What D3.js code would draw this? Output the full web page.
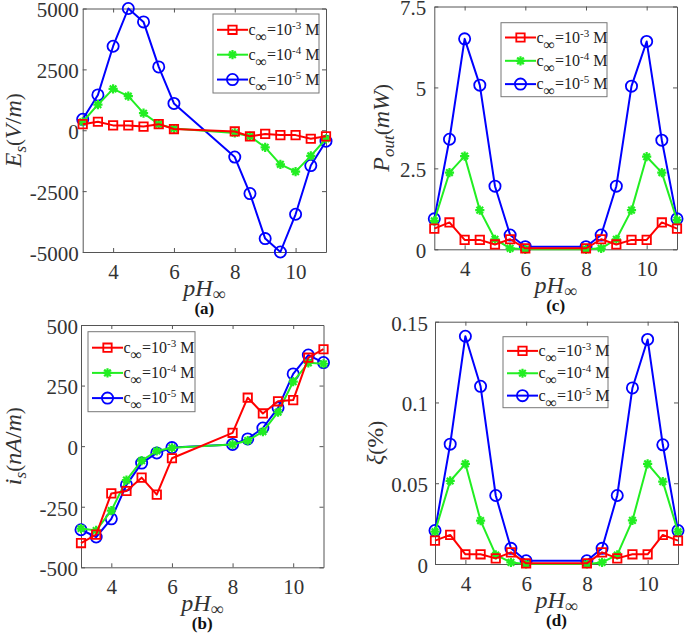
<!DOCTYPE html>
<html>
<head>
<meta charset="utf-8">
<script src="https://cdn.jsdelivr.net/npm/d3@7"></script>
<style>
  html, body { margin: 0; padding: 0; background: #fff; }
  svg { display: block; font-family: "Liberation Serif", "Times New Roman", serif; }
</style>
</head>
<body>
<svg id="chart" width="685" height="635"></svg>
<script>
// ---------------- data ----------------
const pH = [3, 3.5, 4, 4.5, 5, 5.5, 6, 8, 8.5, 9, 9.5, 10, 10.5, 11];
const xTicks = [4, 6, 8, 10];
const seriesExp = ["-3", "-4", "-5"];          // c∞ = 10^exp M
const seriesColors = ["#ff0000", "#22ee22", "#0000ff"];
const seriesMarkers = ["square", "star", "circle"];

// (a) Es (V/m)
const EsRed   = [250, 350, 200, 200, 150, 250, 50, -50, -250, -150, -200, -200, -350, -250];
const EsGreen = [350, 1050, 1700, 1400, 700, 250, 70, -110, -250, -700, -1400, -1700, -1050, -350];
const EsBlue  = [450, 1450, 3450, 5000, 4450, 2600, 1100, -1100, -2600, -4450, -5000, -3450, -1450, -450];
const EsTicks = [-5000, -2500, 0, 2500, 5000];

// (c) Pout (mW)
const PoutRed   = [0.64, 0.83, 0.29, 0.29, 0.15, 0.31, 0.03, 0.03, 0.31, 0.15, 0.29, 0.29, 0.83, 0.64];
const PoutGreen = [0.88, 2.37, 2.88, 1.21, 0.31, 0.03, 0.0, 0.0, 0.03, 0.31, 1.21, 2.86, 2.37, 0.9];
const PoutBlue  = [0.94, 3.4, 6.5, 5.07, 1.95, 0.44, 0.08, 0.08, 0.44, 1.95, 5.04, 6.42, 3.37, 0.94];
const PoutTicks = [0, 2.5, 5, 7.5];

// (b) is (nA/m)
const isRed   = [-400, -365, -195, -185, -130, -200, -50, 55, 200, 135, 185, 190, 365, 400];
const isGreen = [-340, -348, -266, -140, -60, -20, -7, 7, 23, 60, 140, 266, 344, 340];
const isBlue  = [-345, -375, -300, -160, -70, -28, -6, 7, 30, 75, 158, 298, 376, 345];
const isTicks = [-500, -250, 0, 250, 500];

// (d) xi (%)
const xiRed   = [0.0145, 0.018, 0.006, 0.006, 0.0035, 0.0072, 0.0004, 0.0004, 0.0072, 0.0035, 0.006, 0.006, 0.018, 0.0145];
const xiGreen = [0.02, 0.0514, 0.062, 0.0269, 0.0056, 0.001, 0.0, 0.0, 0.001, 0.0056, 0.027, 0.062, 0.051, 0.02];
const xiBlue  = [0.0207, 0.0742, 0.141, 0.11, 0.0424, 0.0097, 0.002, 0.002, 0.0097, 0.0424, 0.109, 0.139, 0.0738, 0.0207];
const xiTicks = [0, 0.05, 0.1, 0.15];

// ---------------- layout ----------------
const panels = [
  { letter: "(a)", plot: [82.7, 8.5, 326, 252], ydom: [-5000, 5000], yticks: EsTicks,
    data: [EsRed, EsGreen, EsBlue], legend: [213, 14, 319, 93],
    ylab: [["E", "i"], ["s", "is"], ["(", "p"], ["V", "i"], ["/", "n"], ["m", "i"], [")", "p"]], ylabX: 21, ylabPad: 4 },
  { letter: "(c)", plot: [434.3, 6.5, 677, 249.3], ydom: [0, 7.5], yticks: PoutTicks,
    data: [PoutRed, PoutGreen, PoutBlue], legend: [501, 22.7, 607, 96.7],
    ylab: [["P", "i"], ["out", "is"], ["(", "p"], ["mW", "i"], [")", "p"]], ylabX: 389, ylabPad: 8 },
  { letter: "(b)", plot: [81, 325, 323.5, 567.3], ydom: [-500, 500], yticks: isTicks,
    data: [isRed, isGreen, isBlue], legend: [88, 331.7, 195, 411.7],
    ylab: [["i", "i"], ["s", "is"], ["(", "p"], ["nA", "i"], ["/", "n"], ["m", "i"], [")", "p"]], ylabX: 21, ylabPad: 3 },
  { letter: "(d)", plot: [435, 321.7, 678, 564], ydom: [0, 0.15], yticks: xiTicks,
    data: [xiRed, xiGreen, xiBlue], legend: [503, 336.7, 608, 407.7],
    ylab: [["ξ", "i"], ["(", "p"], ["%", "n"], [")", "p"]], ylabX: 383, ylabPad: 7 }
];

const svg = d3.select("#chart");
const axisColor = "#555";
const textColor = "#333";

function markerPath(type) {
  if (type === "square") { const s = 4.2; return `M${-s},${-s}H${s}V${s}H${-s}Z`; }
  if (type === "circle") { const r = 5.6; return `M${r},0A${r},${r} 0 1,1 ${-r},0A${r},${r} 0 1,1 ${r},0Z`; }
  const a = 4.6, b = 3.3;
  return `M${-a},0H${a}M0,${-a}V${a}M${-b},${-b}L${b},${b}M${-b},${b}L${b},${-b}`;
}

panels.forEach(p => {
  const [x0, y0, x1, y1] = p.plot;
  const g = svg.append("g");
  const x = d3.scaleLinear().domain([3, 11]).range([x0, x1]);
  const y = d3.scaleLinear().domain(p.ydom).range([y1, y0]);

  // axes
  const fmt = d => String(d);
  const bottom = g.append("g").attr("transform", `translate(0,${y1})`)
    .call(d3.axisBottom(x).tickValues(xTicks).tickSizeInner(-4).tickSizeOuter(0).tickPadding(12).tickFormat(fmt));
  const top = g.append("g").attr("transform", `translate(0,${y0})`)
    .call(d3.axisTop(x).tickValues(xTicks).tickSizeInner(-4).tickSizeOuter(0).tickFormat(""));
  const left = g.append("g").attr("transform", `translate(${x0},0)`)
    .call(d3.axisLeft(y).tickValues(p.yticks).tickSizeInner(-4).tickSizeOuter(0).tickPadding(p.ylabPad).tickFormat(fmt));
  const right = g.append("g").attr("transform", `translate(${x1},0)`)
    .call(d3.axisRight(y).tickValues(p.yticks).tickSizeInner(-4).tickSizeOuter(0).tickFormat(""));
  [bottom, top, left, right].forEach(a => {
    a.selectAll("path.domain").attr("stroke", axisColor).attr("stroke-width", 1);
    a.selectAll(".tick line").attr("stroke", axisColor);
    a.selectAll(".tick text").attr("fill", textColor).attr("font-size", 21)
      .attr("font-family", '"Liberation Serif", "Times New Roman", serif');
  });
  left.selectAll(".tick text").attr("dy", "0.4em");

  // series (draw blue, green, red so red sits on top)
  const order = [2, 1, 0];
  order.forEach(si => {
    const vals = p.data[si];
    const pts = pH.map((v, i) => [v, vals[i]]);
    const line = d3.line().x(d => x(d[0])).y(d => y(d[1]));
    g.append("path").attr("d", line(pts)).attr("fill", "none")
      .attr("stroke", seriesColors[si]).attr("stroke-width", 2).attr("stroke-linejoin", "round");
    g.selectAll(null).data(pts).enter().append("path")
      .attr("d", markerPath(seriesMarkers[si]))
      .attr("transform", d => `translate(${x(d[0])},${y(d[1])})`)
      .attr("fill", "none").attr("stroke", seriesColors[si])
      .attr("stroke-width", seriesMarkers[si] === "star" ? 2.2 : 1.8);
  });

  // legend
  const [lx0, ly0, lx1, ly1] = p.legend;
  const lg = g.append("g");
  lg.append("rect").attr("x", lx0).attr("y", ly0).attr("width", lx1 - lx0).attr("height", ly1 - ly0)
    .attr("fill", "#fff").attr("stroke", "#777").attr("stroke-width", 1);
  const lh = ly1 - ly0;
  [0, 1, 2].forEach(si => {
    const cy = ly0 + lh * (0.2 + 0.315 * si);
    lg.append("line").attr("x1", lx0 + 4).attr("x2", lx0 + 35).attr("y1", cy).attr("y2", cy)
      .attr("stroke", seriesColors[si]).attr("stroke-width", 2);
    lg.append("path").attr("d", markerPath(seriesMarkers[si]))
      .attr("transform", `translate(${lx0 + 19.5},${cy})`)
      .attr("fill", "none").attr("stroke", seriesColors[si])
      .attr("stroke-width", seriesMarkers[si] === "star" ? 2.2 : 1.8);
    const t = lg.append("text").attr("x", lx0 + 35.5).attr("y", cy + 5)
      .attr("font-size", 16).attr("fill", "#222");
    t.append("tspan").text("c");
    t.append("tspan").attr("dy", 7).attr("font-size", 16).text("∞");
    t.append("tspan").attr("dy", -7).text("=10");
    t.append("tspan").attr("dy", -6).attr("font-size", 11).text(seriesExp[si]);
    t.append("tspan").attr("dy", 6).text(" M");
  });

  // x label
  const cx = (x0 + x1) / 2;
  const xl = g.append("text").attr("x", cx).attr("y", y1 + 44).attr("text-anchor", "middle")
    .attr("font-size", 24).attr("fill", textColor);
  xl.append("tspan").attr("font-style", "italic").text("pH");
  xl.append("tspan").attr("dy", 4).attr("font-size", 18).text("∞");

  // panel letter
  g.append("text").attr("x", cx).attr("y", y1 + 62).attr("text-anchor", "middle")
    .attr("font-size", 17).attr("font-weight", "bold").attr("fill", "#111").text(p.letter);

  // y label
  const cyl = (y0 + y1) / 2;
  const yl = g.append("text").attr("transform", `translate(${p.ylabX},${cyl}) rotate(-90)`)
    .attr("text-anchor", "middle").attr("font-size", 24).attr("fill", textColor);
  let sub = false;
  p.ylab.forEach(([s, kind]) => {
    const ts = yl.append("tspan").text(s);
    if (kind === "i" || kind === "is") ts.attr("font-style", "italic");
    if (kind === "p") ts.attr("font-size", 21);
    if (kind === "is") { ts.attr("font-size", 17).attr("dy", 5); sub = true; }
    else if (sub) { ts.attr("dy", -5); sub = false; }
  });
});
</script>
</body>
</html>
